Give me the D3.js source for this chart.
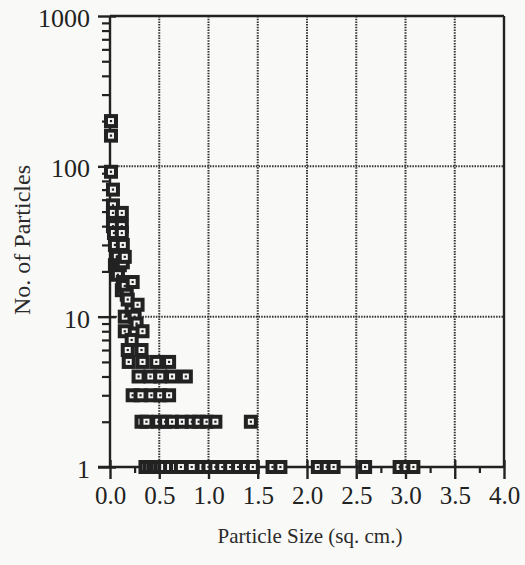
<!DOCTYPE html>
<html>
<head>
<meta charset="utf-8">
<script src="https://cdn.jsdelivr.net/npm/d3@7"></script>
<style>
  html, body { margin: 0; padding: 0; background: #f9f9f7; }
  svg text { font-family: "Liberation Serif", "Times New Roman", serif; fill: #2a2a2a; }
</style>
</head>
<body>
<div id="chart"></div>
<script>
// particle size (sq. cm.) vs number of particles
// steep cluster near the axis (counts 5 and up)
const clusterSize = [0.01, 0.01, 0.01, 0.03, 0.03, 0.03, 0.12, 0.03, 0.12, 0.04, 0.12,
  0.05, 0.13, 0.07, 0.15, 0.13, 0.05, 0.10, 0.08, 0.08, 0.13, 0.23, 0.15, 0.12, 0.17,
  0.18, 0.28, 0.22, 0.15, 0.25, 0.27, 0.15, 0.33, 0.22, 0.18, 0.32,
  0.19, 0.33, 0.47, 0.60];
const clusterCount = [200, 160, 92, 70, 55, 49, 49, 40, 40, 36, 36,
  30, 30, 25, 25, 23, 22, 22, 21, 19, 17, 17, 16, 15, 14,
  13, 12, 11, 10, 10, 9, 8, 8, 7, 6, 6,
  5, 5, 5, 5];

// flat rows at the bottom
const rowCounts = [4, 3, 2, 1];
const rowSizes = [
  [0.29, 0.41, 0.51, 0.63, 0.77],
  [0.23, 0.31, 0.42, 0.51, 0.60],
  [0.32, 0.37, 0.49, 0.56, 0.63, 0.73, 0.83, 0.90, 0.98, 1.07, 1.43],
  [0.36, 0.40, 0.44, 0.47, 0.51, 0.55, 0.61, 0.67, 0.72, 0.83, 0.94, 1.00, 1.07,
   1.14, 1.22, 1.30, 1.38, 1.45, 1.65, 1.73, 2.11, 2.20, 2.27, 2.59, 2.94, 3.01, 3.08]
];

const xTicks = [0, 0.5, 1, 1.5, 2, 2.5, 3, 3.5, 4];
const xMinor = [0.25, 0.75, 1.25, 1.75, 2.25, 2.75, 3.25, 3.75];
const yTicks = [1, 10, 100, 1000];
const xGrid = [0.5, 1, 1.5, 2, 2.5, 3, 3.5];
const yGrid = [10, 100];

const ink = "#222";
const W = 525, H = 565;

let points = clusterSize.map((s, i) => [s, clusterCount[i]]);
rowCounts.forEach((c, i) => rowSizes[i].forEach(s => points.push([s, c])));

const svg = d3.select("#chart").append("svg")
  .attr("width", W).attr("height", H);

const x = d3.scaleLinear().domain([0, 4]).range([110, 504]);
const y = d3.scaleLog().domain([1, 1000]).range([467, 16]);

// dotted grid
svg.append("g")
  .selectAll("line")
  .data(xGrid)
  .join("line")
  .attr("x1", d => x(d)).attr("x2", d => x(d))
  .attr("y1", y(1000)).attr("y2", y(1))
  .attr("stroke", "#333").attr("stroke-width", 2)
  .attr("stroke-dasharray", "1.5,1.2");

svg.append("g")
  .selectAll("line")
  .data(yGrid)
  .join("line")
  .attr("x1", x(0)).attr("x2", x(4))
  .attr("y1", d => y(d)).attr("y2", d => y(d))
  .attr("stroke", "#333").attr("stroke-width", 2)
  .attr("stroke-dasharray", "1.5,1.2");

// frame: left axis, top, right, bottom
const frame = svg.append("g").attr("stroke", ink).attr("stroke-width", 2.4);
frame.append("line").attr("x1", x(0)).attr("x2", x(0)).attr("y1", y(1000)).attr("y2", y(1));
frame.append("line").attr("x1", x(0)).attr("x2", x(4)).attr("y1", y(1000)).attr("y2", y(1000));
frame.append("line").attr("x1", x(4)).attr("x2", x(4)).attr("y1", y(1000)).attr("y2", y(1));
frame.append("line").attr("x1", x(0) - 12).attr("x2", x(4)).attr("y1", y(1)).attr("y2", y(1));

// y axis: minor log ticks (outward), majors crossing the axis
const yMinor = [];
for (let dec = 1; dec < 1000; dec *= 10) {
  for (let k = 2; k <= 9; k++) yMinor.push(dec * k);
}
const yMinorAxis = svg.append("g")
  .attr("transform", `translate(${x(0)},0)`)
  .call(d3.axisLeft(y).tickValues(yMinor).tickSize(8).tickFormat(""));
yMinorAxis.select(".domain").remove();
yMinorAxis.selectAll("line").attr("stroke", ink).attr("stroke-width", 2.2);

const yAxis = svg.append("g")
  .attr("transform", `translate(${x(0)},0)`)
  .call(d3.axisLeft(y).tickValues(yTicks).tickSize(12).tickPadding(8)
    .tickFormat(d3.format("d")));
yAxis.select(".domain").remove();
yAxis.selectAll("line").attr("stroke", ink).attr("stroke-width", 2.4).attr("x2", 6);
yAxis.selectAll("line").attr("x1", -12);
yAxis.selectAll("text").attr("font-size", 26).attr("dy", "0.4em").style("fill", ink);

// x axis: majors crossing, minors below
const xMinorAxis = svg.append("g")
  .attr("transform", `translate(0,${y(1)})`)
  .call(d3.axisBottom(x).tickValues(xMinor).tickSize(6).tickFormat(""));
xMinorAxis.select(".domain").remove();
xMinorAxis.selectAll("line").attr("stroke", ink).attr("stroke-width", 2.2);

const xAxis = svg.append("g")
  .attr("transform", `translate(0,${y(1)})`)
  .call(d3.axisBottom(x).tickValues(xTicks).tickSize(12).tickPadding(6)
    .tickFormat(d3.format(".1f")));
xAxis.select(".domain").remove();
xAxis.selectAll("line").attr("stroke", ink).attr("stroke-width", 2.4).attr("y1", -7);
xAxis.selectAll("text").attr("font-size", 25).attr("dy", "0.75em").style("fill", ink);

// square markers with a hollow centre and a dot
points.sort((a, b) => a[0] - b[0]);
const m = svg.append("g")
  .selectAll("g")
  .data(points)
  .join("g")
  .attr("transform", d => `translate(${x(d[0])},${y(d[1])})`);
m.append("rect").attr("x", -7).attr("y", -7).attr("width", 14).attr("height", 14)
  .attr("fill", ink);
m.append("rect").attr("x", -3).attr("y", -3).attr("width", 6).attr("height", 6)
  .attr("fill", "#f4f4f2");
m.append("rect").attr("x", -1.1).attr("y", -1.1).attr("width", 2.2).attr("height", 2.2)
  .attr("fill", ink);

// titles
svg.append("text")
  .attr("x", 310).attr("y", 543)
  .attr("text-anchor", "middle")
  .attr("font-size", 21)
  .text("Particle Size (sq. cm.)");

svg.append("text")
  .attr("transform", "translate(30,240) rotate(-90)")
  .attr("text-anchor", "middle")
  .attr("font-size", 24)
  .text("No. of Particles");
</script>
</body>
</html>
